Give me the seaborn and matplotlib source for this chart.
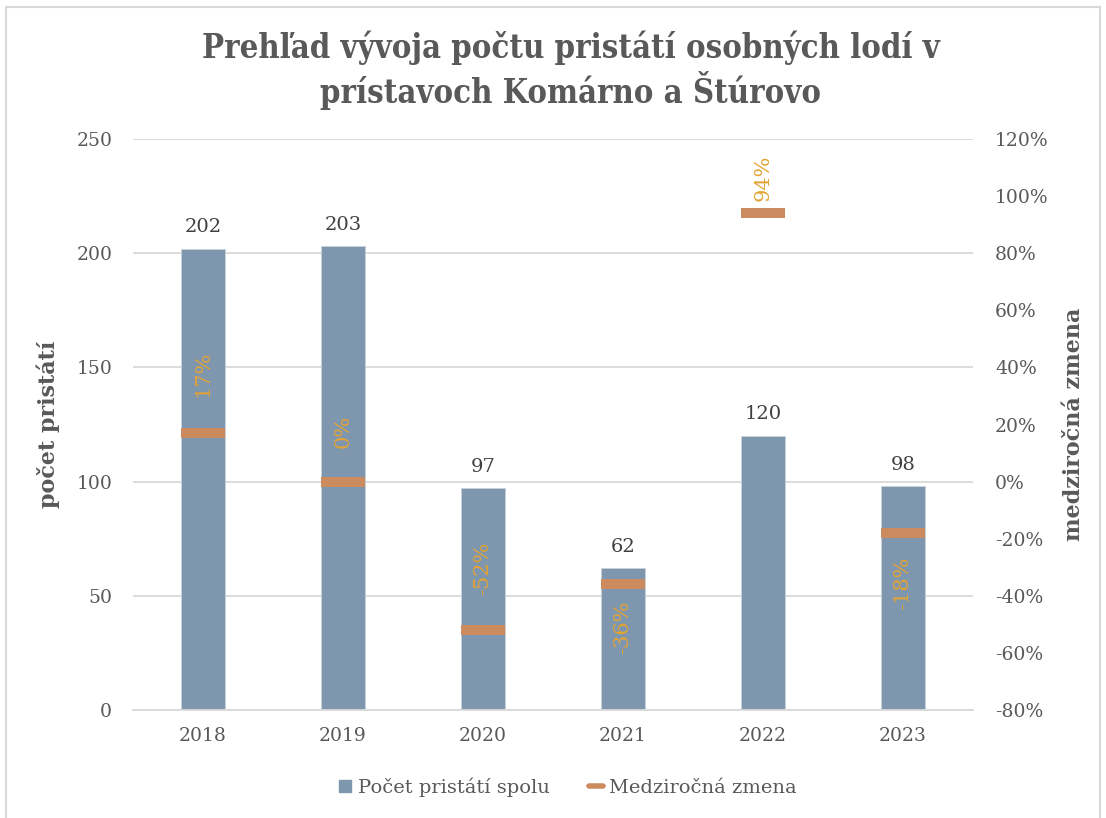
import numpy as np
import pandas as pd
import seaborn as sns
import matplotlib.pyplot as plt
from matplotlib.lines import Line2D
from matplotlib.patches import Rectangle
from matplotlib.ticker import PercentFormatter

years = ['2018', '2019', '2020', '2021', '2022', '2023']
landings = [202, 203, 97, 62, 120, 98]
yoy_change = [17, 0, -52, -36, 94, -18]
# where each % label sits relative to its marker (points, + = above)
label_offsets = [26, 24, 25, -12, 9, -17]

BAR = '#7f97ae'
DASH = '#cc8b5f'
LABEL = '#e3a334'
TEXT = '#595959'
SERIF = 'DejaVu Serif'

sns.set_theme(style='white')
plt.rcParams['font.family'] = [SERIF, 'DejaVu Sans']
plt.rcParams['axes.unicode_minus'] = False

df = pd.DataFrame({'rok': years, 'pocet': landings, 'zmena': yoy_change})

fig = plt.figure(figsize=(11.06, 8.18), dpi=100)
ax = fig.add_axes([0.1203, 0.132, 0.7594, 0.698])
ax2 = ax.twinx()

sns.barplot(data=df, x='rok', y='pocet', color=BAR, saturation=1, width=0.314,
            edgecolor='#c9d3de', linewidth=0.6, ax=ax, zorder=2)
ax.set_ylim(0, 250)
ax.set_yticks(range(0, 251, 50))
ax.yaxis.grid(True, color='#d9d9d9', linewidth=1.3, zorder=0)
ax.set_axisbelow(True)
for s in ax.spines.values():
    s.set_visible(False)
ax.spines['bottom'].set_visible(True)
ax.spines['bottom'].set_color('#d9d9d9')
ax.spines['bottom'].set_linewidth(1.3)
ax.tick_params(axis='both', length=0, labelsize=13.5, labelcolor=TEXT, pad=12)
ax.tick_params(axis='y', pad=15)
ax.set_xlabel('')
ax.set_ylabel('počet pristátí', fontsize=16, fontweight='bold', color=TEXT, labelpad=12)

for i, v in enumerate(landings):
    ax.annotate(str(v), (i, v), xytext=(0, 9), textcoords='offset points',
                ha='center', va='bottom', fontsize=14, color='#404040')

sns.scatterplot(data=df, x='rok', y='zmena', marker='_', s=1000, linewidth=7.2,
                color=DASH, ax=ax2, zorder=3, legend=False)
ax2.set_ylim(-80, 120)
ax2.set_yticks(range(-80, 121, 20))
ax2.yaxis.set_major_formatter(PercentFormatter(decimals=0))
for s in ax2.spines.values():
    s.set_visible(False)
ax2.tick_params(axis='y', length=0, labelsize=13.5, labelcolor=TEXT, pad=16)
ax2.set_ylabel('medziročná zmena', fontsize=16, fontweight='bold', color=TEXT,
               labelpad=10)
ax2.grid(False)
ax.set_xlim(-0.5, len(years) - 0.5)

for i, (v, off) in enumerate(zip(yoy_change, label_offsets)):
    ax2.annotate(f'{v}%', (i, v), xytext=(0, off), textcoords='offset points',
                 rotation=90, ha='center', va='bottom' if off > 0 else 'top',
                 fontsize=15, color=LABEL)

fig.suptitle('Prehľad vývoja počtu pristátí osobných lodí v\nprístavoch Komárno a Štúrovo',
             x=0.516, y=0.963, fontsize=23.5, fontweight='bold', fontstretch='condensed',
             color=TEXT, linespacing=1.2)

handles = [Line2D([], [], color=BAR, marker='s', linestyle='', markersize=8),
           Line2D([], [], color=DASH, linewidth=4)]
fig.legend(handles, ['Počet pristátí spolu', 'Medziročná zmena'], loc='center',
           bbox_to_anchor=(0.513, 0.038), ncol=2, frameon=False, fontsize=14,
           labelcolor=TEXT, handlelength=0.7, handletextpad=0.35, columnspacing=2.0)

fig.patches.append(Rectangle((0.0055, -0.01), 0.989, 1.001, transform=fig.transFigure,
                             fill=False, edgecolor='#d9d9d9', linewidth=1.5))

fig.savefig('out.png', dpi=100)
